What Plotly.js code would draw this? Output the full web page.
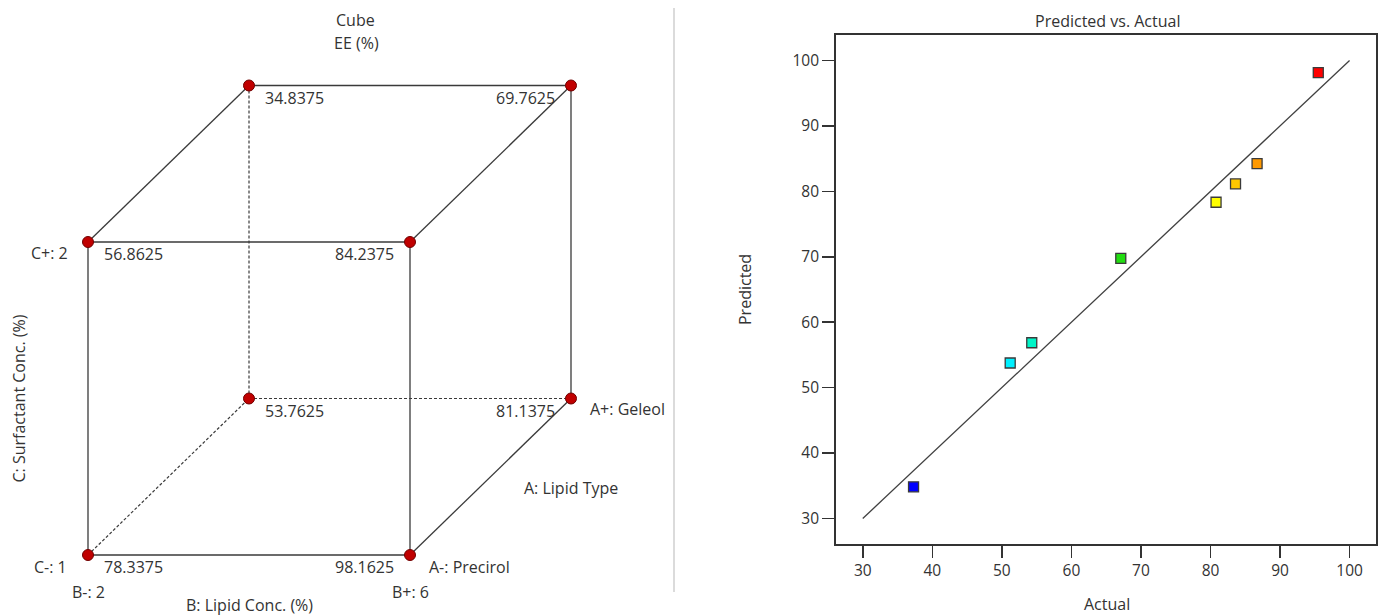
<!DOCTYPE html>
<html>
<head>
<meta charset="utf-8">
<script src="https://cdn.plot.ly/plotly-3.0.1.min.js"></script>
<style>html,body{margin:0;padding:0;background:#fff;}#chart{width:1389px;height:616px;}</style>
</head>
<body>
<div id="chart"></div>
<script>
// ---------- DATA ----------
// Cube plot: 2^3 factorial corners (A: Lipid Type, B: Lipid Conc., C: Surfactant Conc.)
const levelA = ['Precirol', 'Geleol'];
const levelB = [2, 6];
const levelC = [1, 2];
const runA = [0, 0, 0, 0, 1, 1, 1, 1];          // 0 = A- (Precirol), 1 = A+ (Geleol)
const runB = [2, 6, 2, 6, 2, 6, 2, 6];
const runC = [1, 1, 2, 2, 1, 1, 2, 2];
const runEE = [78.3375, 98.1625, 56.8625, 84.2375, 53.7625, 81.1375, 34.8375, 69.7625];

// Predicted vs. Actual
const actual = [95.5, 86.7, 83.6, 80.8, 67.1, 54.3, 51.2, 37.3];
const predicted = [98.1625, 84.2375, 81.1375, 78.3375, 69.7625, 56.8625, 53.7625, 34.8375];
const pointColors = ['#FF0000', '#FF9900', '#FFC800', '#FFFF00', '#22DD11', '#00F5C8', '#00F0FF', '#0000FF'];
const refLine = [30, 100];
const tickValues = [30, 40, 50, 60, 70, 80, 90, 100];

// ---------- LAYOUT HELPERS ----------
const W = 1389, H = 616;
const FONT = 'Open Sans, Noto Sans, sans-serif';
const TXT = '#333333';
const FS = 16;
const depthX = 2.0, depthY = 0.5;   // oblique projection of factor A
const px = i => runB[i] + depthX * runA[i];
const py = i => runC[i] + depthY * runA[i];

// cube pixel anchors -> axis ranges
const bPix = [88, 410], cPix = [555, 242];
const sx = (bPix[1] - bPix[0]) / (levelB[1] - levelB[0]);
const sy = (cPix[0] - cPix[1]) / (levelC[1] - levelC[0]);
const x2range = [levelB[0] - bPix[0] / sx, levelB[0] + (690 - bPix[0]) / sx];
const y2range = [levelC[0] - (H - cPix[0]) / sy, levelC[0] + cPix[0] / sy];

// edges of cube
const hidden = runEE.findIndex((v, i) => runA[i] === 1 && runB[i] === levelB[0] && runC[i] === levelC[0]);
const solidX = [], solidY = [], dashX = [], dashY = [];
for (let i = 0; i < 8; i++) {
  for (let j = i + 1; j < 8; j++) {
    const diff = (runA[i] !== runA[j]) + (runB[i] !== runB[j]) + (runC[i] !== runC[j]);
    if (diff !== 1) continue;
    if (i === hidden || j === hidden) { dashX.push(px(i), px(j), null); dashY.push(py(i), py(j), null); }
    else { solidX.push(px(i), px(j), null); solidY.push(py(i), py(j), null); }
  }
}

const traces = [
  { x: solidX, y: solidY, xaxis: 'x2', yaxis: 'y2', mode: 'lines', line: { color: '#3a3a3a', width: 1.3 }, hoverinfo: 'skip', showlegend: false },
  { x: dashX, y: dashY, xaxis: 'x2', yaxis: 'y2', mode: 'lines', line: { color: '#3a3a3a', width: 1.2, dash: '3px,2px' }, hoverinfo: 'skip', showlegend: false },
  { x: runEE.map((v, i) => px(i)), y: runEE.map((v, i) => py(i)), xaxis: 'x2', yaxis: 'y2', mode: 'markers',
    marker: { symbol: 'circle', size: 11, color: '#C00000', line: { color: '#700000', width: 1 } }, text: runEE.map(String), hoverinfo: 'text', showlegend: false },
  { x: refLine, y: refLine, mode: 'lines', line: { color: '#404040', width: 1.3 }, hoverinfo: 'skip', showlegend: false },
  { x: actual, y: predicted, mode: 'markers',
    marker: { symbol: 'square', size: 10, color: pointColors, line: { color: '#3a3a3a', width: 1.3 } }, showlegend: false }
];

const ann = [];
const f = (extra) => Object.assign({ family: FONT, size: FS, color: TXT }, extra || {});
// value labels
runEE.forEach((v, i) => {
  const left = runB[i] === levelB[0];
  ann.push({ xref: 'x2', yref: 'y2', x: px(i), y: py(i), text: v.toFixed(4), showarrow: false,
    xanchor: left ? 'left' : 'right', yanchor: 'middle', xshift: left ? 14 : -14, yshift: -12, font: f() });
});
const idx = (a, b, c) => runEE.findIndex((v, i) => runA[i] === a && runB[i] === b && runC[i] === c);
const fBL = idx(0, levelB[0], levelC[0]), fBR = idx(0, levelB[1], levelC[0]), fTL = idx(0, levelB[0], levelC[1]), bBR = idx(1, levelB[1], levelC[0]);
ann.push({ xref: 'x2', yref: 'y2', x: px(fTL), y: py(fTL), text: 'C+: ' + levelC[1], showarrow: false, xanchor: 'right', xshift: -18, yshift: -11, font: f() });
ann.push({ xref: 'x2', yref: 'y2', x: px(fBL), y: py(fBL), text: 'C-: ' + levelC[0], showarrow: false, xanchor: 'right', xshift: -19, yshift: -12, font: f() });
ann.push({ xref: 'x2', yref: 'y2', x: px(fBL), y: py(fBL), text: 'B-: ' + levelB[0], showarrow: false, xanchor: 'center', yshift: -37, font: f() });
ann.push({ xref: 'x2', yref: 'y2', x: px(fBR), y: py(fBR), text: 'B+: ' + levelB[1], showarrow: false, xanchor: 'center', yshift: -37, font: f() });
ann.push({ xref: 'x2', yref: 'y2', x: px(fBR), y: py(fBR), text: 'A-: ' + levelA[0], showarrow: false, xanchor: 'left', xshift: 17, yshift: -12, font: f() });
ann.push({ xref: 'x2', yref: 'y2', x: px(bBR), y: py(bBR), text: 'A+: ' + levelA[1], showarrow: false, xanchor: 'left', xshift: 17, yshift: -10, font: f() });
ann.push({ xref: 'x2', yref: 'y2', x: (px(fBR) + px(bBR)) / 2, y: (py(fBR) + py(bBR)) / 2, text: 'A: Lipid Type', showarrow: false, xanchor: 'left', xshift: 31, yshift: -11, font: f() });
ann.push({ xref: 'x2', yref: 'y2', x: (px(fBL) + px(fBR)) / 2, y: py(fBL), text: 'B: Lipid Conc. (%)', showarrow: false, xanchor: 'center', yshift: -50, font: f() });
ann.push({ xref: 'x2', yref: 'y2', x: px(fBL), y: (py(fBL) + py(fTL)) / 2, text: 'C: Surfactant Conc. (%)', showarrow: false, textangle: -90, xanchor: 'center', yanchor: 'middle', xshift: -70, font: f() });
ann.push({ xref: 'paper', yref: 'paper', x: 355 / W, y: 1 - 20 / H, text: 'Cube', showarrow: false, xanchor: 'center', yanchor: 'middle', font: f() });
ann.push({ xref: 'paper', yref: 'paper', x: 356 / W, y: 1 - 43 / H, text: 'EE (%)', showarrow: false, xanchor: 'center', yanchor: 'middle', font: f() });
// right panel titles
ann.push({ xref: 'paper', yref: 'paper', x: 1107 / W, y: 1 - 21 / H, text: 'Predicted vs. Actual', showarrow: false, xanchor: 'center', yanchor: 'middle', font: f() });
ann.push({ xref: 'paper', yref: 'paper', x: 1107 / W, y: 1 - 604 / H, text: 'Actual', showarrow: false, xanchor: 'center', yanchor: 'middle', font: f() });
ann.push({ xref: 'paper', yref: 'paper', x: 745 / W, y: 1 - 290 / H, text: 'Predicted', showarrow: false, textangle: -90, xanchor: 'center', yanchor: 'middle', font: f() });

const axisCommon = {
  showgrid: false, zeroline: false, ticks: 'outside', ticklen: 12, tickwidth: 1.5, tickcolor: '#333',
  showline: true, linecolor: '#333', linewidth: 1.8, mirror: true,
  tickvals: tickValues, tickfont: { family: FONT, size: 15.5, color: TXT }, fixedrange: true
};

const layout = {
  width: W, height: H, margin: { l: 0, r: 0, t: 0, b: 0 },
  paper_bgcolor: '#fff', plot_bgcolor: 'rgba(0,0,0,0)',
  xaxis: Object.assign({}, axisCommon, { domain: [836 / W, 1376 / W], range: [26.15, 103.8], anchor: 'y' }),
  yaxis: Object.assign({}, axisCommon, { domain: [1 - 544 / H, 1 - 35 / H], range: [26.1, 103.9], anchor: 'x' }),
  xaxis2: { domain: [0, 690 / W], range: x2range, visible: false, anchor: 'y2', fixedrange: true },
  yaxis2: { domain: [0, 1], range: y2range, visible: false, anchor: 'x2', fixedrange: true },
  annotations: ann,
  shapes: [{ type: 'line', xref: 'paper', yref: 'paper', x0: 674 / W, x1: 674 / W, y0: 1 - 8 / H, y1: 1 - 592 / H, line: { color: '#cfcfcf', width: 1.5 } }],
  showlegend: false
};

Plotly.newPlot('chart', traces, layout, { displayModeBar: false, staticPlot: true });
</script>
</body>
</html>
